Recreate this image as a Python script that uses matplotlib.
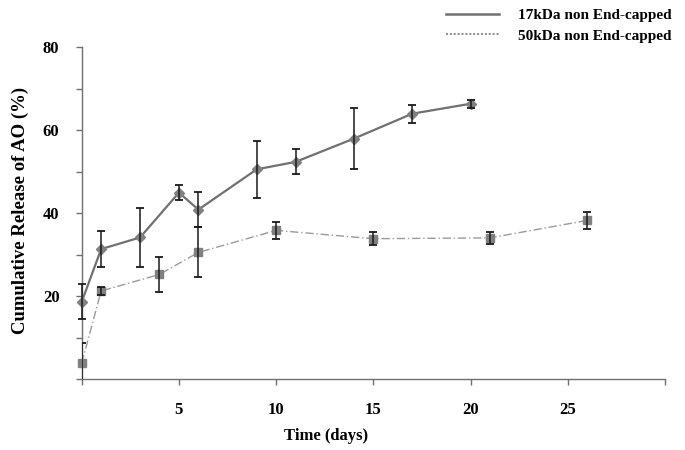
import numpy as np
import matplotlib
matplotlib.use('Agg')
import matplotlib.pyplot as plt
from matplotlib.lines import Line2D

plt.rcParams['font.family'] = ['Liberation Serif', 'DejaVu Serif']
plt.rcParams['font.weight'] = 'bold'

# 17kDa non End-capped
t_17 = [0, 1, 3, 5, 6, 9, 11, 14, 17, 20]
rel_17 = [18.7, 31.4, 34.2, 45.0, 40.9, 50.6, 52.4, 58.0, 64.0, 66.4]
err_17 = [4.2, 4.3, 7.1, 1.9, 4.3, 6.8, 3.0, 7.4, 2.2, 1.0]

# 50kDa non End-capped
t_50 = [0, 1, 4, 6, 10, 15, 21, 26]
rel_50 = [3.9, 21.3, 25.3, 30.6, 35.9, 33.9, 34.1, 38.3]
err_50 = [5.0, 1.0, 4.2, 6.0, 2.0, 1.6, 1.4, 2.0]

label_17 = '17kDa non End-capped'
label_50 = '50kDa non End-capped'

fig = plt.figure(figsize=(6.85, 4.5), dpi=100)
ax = fig.add_axes([0.1193, 0.1567, 0.8515, 0.7383])

# series 1 - solid line, diamonds
ax.plot(t_17, rel_17, color='#707070', lw=1.6, marker='D', ms=5,
        mfc='#808080', mec='#808080', zorder=3, clip_on=False)
ax.errorbar(t_17, rel_17, yerr=err_17, fmt='none', ecolor='#1a1a1a',
            elinewidth=1.1, capsize=3, capthick=1.3, zorder=4, clip_on=False)

# series 2 - dash dot line, squares
ax.plot(t_50, rel_50, color='#9a9a9a', lw=1.0, ls=(0, (6, 2, 1, 2)),
        marker='s', ms=6, mfc='#808080', mec='#808080', zorder=3, clip_on=False)
ax.errorbar(t_50, rel_50, yerr=err_50, fmt='none', ecolor='#1a1a1a',
            elinewidth=1.1, capsize=3, capthick=1.3, zorder=4)

ax.set_xlim(0, 30)
ax.set_ylim(0, 80)
ax.set_xticks(np.arange(0, 31, 5))
ax.set_xticklabels(['', '5', '10', '15', '20', '25', ''])
ax.set_yticks(np.arange(0, 81, 10))
ax.set_yticklabels(['', '', '20', '', '40', '', '60', '', '80'])

for s in ['top', 'right']:
    ax.spines[s].set_visible(False)
for s in ['left', 'bottom']:
    ax.spines[s].set_color('#707070')
    ax.spines[s].set_linewidth(1.0)

ax.tick_params(axis='both', colors='#707070', labelcolor='black',
               labelsize=12, length=4, width=1.0)
ax.tick_params(axis='x', pad=12)
ax.tick_params(axis='y', pad=12)
for lab in ax.get_xticklabels() + ax.get_yticklabels():
    lab.set_fontweight('bold')

ax.set_xlabel('Time (days)', fontsize=12, fontweight='bold')
ax.xaxis.set_label_coords(0.419, -0.145)
ax.set_ylabel('Cumulative Release of AO (%)', fontsize=13.5, fontweight='bold')
ax.yaxis.set_label_coords(-0.09, 0.51)

handles = [Line2D([], [], color='#707070', lw=1.8),
           Line2D([], [], color='#8a8a8a', lw=1.4, ls=(0, (1, 1)))]
fig.legend(handles, [label_17, label_50], loc='upper right',
           bbox_to_anchor=(1.0, 1.012), frameon=False,
           prop={'size': 11, 'weight': 'bold'},
           handlelength=3.5, handletextpad=1.2, labelspacing=0.45)

fig.savefig('out.png', dpi=100)
